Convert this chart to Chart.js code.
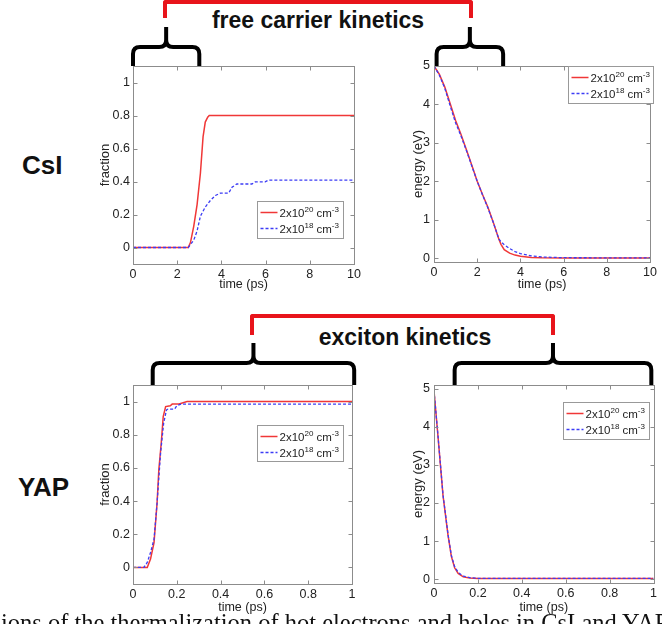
<!DOCTYPE html>
<html>
<head>
<meta charset="utf-8">
<script src="https://cdn.jsdelivr.net/npm/chart.js@4.4.1/dist/chart.umd.min.js"></script>
<style>
  body { margin: 0; width: 662px; height: 624px; overflow: hidden; background: #fff; position: relative;
         font-family: "Liberation Sans", Arial, sans-serif; color: #111; }
  .box { position: absolute; }
  .box canvas { display: block; }
  .bracket { position: absolute; box-sizing: border-box; border: 4px solid #e8141b; border-bottom: none;
             border-radius: 3px 3px 0 0; }
  .head { position: absolute; font-weight: bold; font-size: 23px; line-height: 1; white-space: nowrap;
          transform: translateX(-50%); }
  .row { position: absolute; font-weight: bold; font-size: 26px; line-height: 1; }
  .caption { position: absolute; left: 1px; top: 611px; font-family: "Liberation Serif", serif; font-size: 24.5px;
             line-height: 1; white-space: nowrap; }
</style>
</head>
<body>
<div class="bracket" style="left:163px;top:0;width:310px;height:18px"></div>
<div class="head" style="left:318px;top:9px">free carrier kinetics</div>
<div class="bracket" style="left:250px;top:314px;width:305px;height:21px"></div>
<div class="head" style="left:405px;top:326px">exciton kinetics</div>
<div class="row" style="left:22px;top:152px">CsI</div>
<div class="row" style="left:18px;top:474px">YAP</div>

<div class="box" style="left:98px;top:20px"><canvas id="csiFrac" width="266" height="272"></canvas></div>
<div class="box" style="left:411px;top:20px"><canvas id="csiEnergy" width="249" height="272"></canvas></div>
<div class="box" style="left:98px;top:335px"><canvas id="yapFrac" width="264" height="280"></canvas></div>
<div class="box" style="left:411px;top:335px"><canvas id="yapEnergy" width="249" height="280"></canvas></div>

<div class="caption">ions of the thermalization of hot electrons and holes in CsI and YAP</div>

<script>
// legend text, '^' marks a superscript
const seriesLabels = ['2x10^20 cm^-3', '2x10^18 cm^-3'];

const fracTicks = [0, 0.2, 0.4, 0.6, 0.8, 1];
const energyTicks = [0, 1, 2, 3, 4, 5];
const csiTimeTicks = [0, 2, 4, 6, 8, 10];
const yapTimeTicks = [0, 0.2, 0.4, 0.6, 0.8, 1];

// CsI, fraction vs time (ps)
const csiFracRedX = [0, 2.5, 2.6, 2.75, 2.9, 3.05, 3.17, 3.27, 3.38, 3.45, 10];
const csiFracRedY = [0, 0, 0.03, 0.13, 0.26, 0.45, 0.67, 0.76, 0.79, 0.8, 0.8];
const csiFracBlueX = [0, 2.5, 2.75, 2.9, 3.05, 3.27, 3.5, 3.73, 3.95, 4.33, 4.48, 4.7, 5.38, 5.53, 5.98, 6.13, 10];
const csiFracBlueY = [0, 0, 0.045, 0.1, 0.19, 0.245, 0.285, 0.315, 0.33, 0.33, 0.365, 0.385, 0.385, 0.398, 0.398, 0.408, 0.408];

// CsI, energy (eV) vs time (ps)
const csiEnergyX = [0, 0.25, 0.5, 0.75, 1, 1.25, 1.5, 1.75, 2, 2.25, 2.5, 2.75, 3, 3.1, 3.25, 3.5, 3.75, 4, 4.5, 5, 6, 10];
const csiEnergyRed = [5, 4.78, 4.45, 4.02, 3.58, 3.22, 2.82, 2.42, 2.0, 1.65, 1.32, 0.92, 0.5, 0.36, 0.22, 0.13, 0.08, 0.05, 0.02, 0.01, 0.005, 0.005];
const csiEnergyBlue = [5, 4.76, 4.42, 3.96, 3.52, 3.18, 2.8, 2.4, 2.0, 1.64, 1.3, 0.92, 0.5, 0.43, 0.35, 0.25, 0.17, 0.12, 0.06, 0.03, 0.012, 0.005];

// YAP, fraction vs time (ps)
const yapFracRedX = [0, 0.065, 0.08, 0.096, 0.11, 0.118, 0.129, 0.138, 0.149, 0.17, 0.179, 0.21, 0.247, 1];
const yapFracRedY = [0, 0, 0.05, 0.15, 0.39, 0.59, 0.75, 0.91, 0.97, 0.975, 0.985, 0.985, 1.0, 1.0];
const yapFracBlueX = [0, 0.05, 0.065, 0.08, 0.096, 0.11, 0.126, 0.14, 0.153, 0.16, 0.19, 0.2, 0.22, 1];
const yapFracBlueY = [0, 0, 0.03, 0.09, 0.17, 0.39, 0.69, 0.87, 0.95, 0.955, 0.955, 0.975, 0.985, 0.985];

// YAP, energy (eV) vs time (ps)
const yapEnergyX = [0, 0.018, 0.041, 0.064, 0.079, 0.094, 0.11, 0.133, 0.163, 0.2, 0.25, 1];
const yapEnergyRed = [4.95, 3.76, 2.2, 1.15, 0.6, 0.3, 0.15, 0.06, 0.03, 0.02, 0.02, 0.02];
const yapEnergyBlue = [4.95, 3.78, 2.22, 1.17, 0.63, 0.33, 0.18, 0.08, 0.04, 0.025, 0.02, 0.02];

// time spans marked by the black braces
const csiFracBrace = [0, 3];
const csiEnergyBrace = [0.12, 3.2];
const yapFracBrace = [0.09, 1.01];
const yapEnergyBrace = [0.094, 0.99];

const RED = 'rgb(240,55,55)';
const BLUE = 'rgb(60,60,245)';
Chart.defaults.font.family = '"Liberation Sans", Arial, sans-serif';

function drawLabel(ctx, text, x, y) {
  text.split(/(\^\S+)/).forEach(part => {
    if (!part) return;
    const sup = part[0] === '^';
    const s = sup ? part.slice(1) : part;
    ctx.font = sup ? '8px "Liberation Sans", Arial' : '11.5px "Liberation Sans", Arial';
    ctx.fillText(s, x, sup ? y - 5 : y);
    x += ctx.measureText(s).width;
  });
}

const decor = {
  id: 'decor',
  afterDraw(chart, args, opts) {
    const ctx = chart.ctx, a = chart.chartArea, xs = chart.scales.x, ys = chart.scales.y;
    ctx.save();
    // box and inward ticks
    ctx.strokeStyle = '#8c8c8c';
    ctx.lineWidth = 1;
    const l = Math.round(a.left) + 0.5, r = Math.round(a.right) + 0.5;
    const t = Math.round(a.top) + 0.5, b = Math.round(a.bottom) + 0.5;
    ctx.strokeRect(l, t, r - l, b - t);
    ctx.beginPath();
    xs.ticks.forEach(tk => {
      const x = Math.round(xs.getPixelForValue(tk.value)) + 0.5;
      ctx.moveTo(x, b); ctx.lineTo(x, b - 4);
      ctx.moveTo(x, t); ctx.lineTo(x, t + 4);
    });
    ys.ticks.forEach(tk => {
      const y = Math.round(ys.getPixelForValue(tk.value)) + 0.5;
      ctx.moveTo(l, y); ctx.lineTo(l + 4, y);
      ctx.moveTo(r, y); ctx.lineTo(r - 4, y);
    });
    ctx.stroke();

    // legend box
    const L = opts.legend;
    const bx = Math.round(a.left + L.x) + 0.5, by = Math.round(a.top + L.y) + 0.5;
    ctx.fillStyle = '#fff';
    ctx.fillRect(bx, by, L.w, L.h);
    ctx.strokeStyle = '#999';
    ctx.strokeRect(bx, by, L.w, L.h);
    chart.data.datasets.forEach((ds, i) => {
      const ly = by + (i === 0 ? 11 : 27);
      ctx.strokeStyle = ds.borderColor;
      ctx.lineWidth = ds.borderWidth;
      ctx.setLineDash(ds.borderDash || []);
      ctx.beginPath(); ctx.moveTo(bx + 3, ly); ctx.lineTo(bx + 20, ly); ctx.stroke();
      ctx.setLineDash([]);
      ctx.fillStyle = '#222';
      ctx.textBaseline = 'alphabetic';
      drawLabel(ctx, ds.label, bx + 22, ly + 4);
    });

    // black brace over the chart
    const br = opts.brace;
    const x1 = xs.getPixelForValue(br[0]), x2 = xs.getPixelForValue(br[1]), xm = (x1 + x2) / 2;
    const yb = a.top, yh = a.top - opts.rise, yt = a.top - opts.tip, rr = 7;
    ctx.strokeStyle = '#000';
    ctx.lineWidth = 4;
    ctx.lineJoin = 'round';
    ctx.beginPath();
    ctx.moveTo(x1, yb); ctx.lineTo(x1, yh + rr); ctx.quadraticCurveTo(x1, yh, x1 + rr, yh);
    ctx.lineTo(xm - rr, yh); ctx.quadraticCurveTo(xm, yh, xm, yh - rr); ctx.lineTo(xm, yt);
    ctx.moveTo(xm, yh - rr); ctx.quadraticCurveTo(xm, yh, xm + rr, yh);
    ctx.lineTo(x2 - rr, yh); ctx.quadraticCurveTo(x2, yh, x2, yh + rr); ctx.lineTo(x2, yb);
    ctx.stroke();
    ctx.restore();
  }
};

const fmt = v => String(Math.round(v * 10) / 10);

function series(label, xs, ys, color, dash, order) {
  return {
    label, data: xs.map((x, i) => ({ x, y: ys[i] })),
    borderColor: color, borderWidth: dash ? 1.3 : 1.5, borderDash: dash,
    pointRadius: 0, tension: 0, fill: false, order
  };
}

function makeChart(id, c) {
  return new Chart(document.getElementById(id), {
    type: 'line',
    data: {
      datasets: [
        series(seriesLabels[0], c.redX, c.redY, RED, undefined, 1),
        series(seriesLabels[1], c.blueX, c.blueY, BLUE, [3, 2], 0)
      ]
    },
    plugins: [decor],
    options: {
      responsive: false, animation: false, devicePixelRatio: 1,
      layout: { padding: { top: c.padTop, right: c.padRight, left: 0, bottom: 0 } },
      plugins: {
        legend: { display: false }, tooltip: { enabled: false },
        decor: { legend: c.legend, brace: c.brace, rise: c.rise, tip: c.tip }
      },
      scales: {
        x: {
          type: 'linear', min: c.xMin, max: c.xMax,
          afterBuildTicks: s => { s.ticks = c.xTicks.map(v => ({ value: v })); },
          afterFit: s => { s.height = c.xH; },
          grid: { display: false, drawTicks: false }, border: { display: false },
          ticks: { padding: 3, color: '#222', font: { size: 12.5 }, autoSkip: false, maxRotation: 0, callback: fmt },
          title: { display: true, text: 'time (ps)', color: '#222', font: { size: 12.5 }, padding: 0 }
        },
        y: {
          type: 'linear', min: c.yMin, max: c.yMax,
          afterBuildTicks: s => { s.ticks = c.yTicks.map(v => ({ value: v })); },
          afterFit: s => { s.width = c.yW; },
          grid: { display: false, drawTicks: false }, border: { display: false },
          ticks: { padding: c.yPad, color: '#222', font: { size: 12.5 }, autoSkip: false, callback: fmt },
          title: { display: true, text: c.yTitle, color: '#222', font: { size: 13 }, padding: 0 }
        }
      }
    }
  });
}

makeChart('csiFrac', {
  redX: csiFracRedX, redY: csiFracRedY, blueX: csiFracBlueX, blueY: csiFracBlueY,
  xMin: 0, xMax: 10, xTicks: csiTimeTicks, yMin: -0.1, yMax: 1.1, yTicks: fracTicks,
  yTitle: 'fraction', yW: 35, yPad: 3, xH: 28, padTop: 46, padRight: 10,
  legend: { x: 124, y: 135, w: 86, h: 37 }, brace: csiFracBrace, rise: 19, tip: 39
});
makeChart('csiEnergy', {
  redX: csiEnergyX, redY: csiEnergyRed, blueX: csiEnergyX, blueY: csiEnergyBlue,
  xMin: 0, xMax: 10, xTicks: csiTimeTicks, yMin: -0.1, yMax: 5, yTicks: energyTicks,
  yTitle: 'energy (eV)', yW: 23, yPad: 4, xH: 30, padTop: 46, padRight: 6,
  legend: { x: 134, y: 0, w: 85, h: 37 }, brace: csiEnergyBrace, rise: 19, tip: 39
});
makeChart('yapFrac', {
  redX: yapFracRedX, redY: yapFracRedY, blueX: yapFracBlueX, blueY: yapFracBlueY,
  xMin: 0, xMax: 1, xTicks: yapTimeTicks, yMin: -0.1, yMax: 1.1, yTicks: fracTicks,
  yTitle: 'fraction', yW: 35, yPad: 3, xH: 31, padTop: 50, padRight: 10,
  legend: { x: 124, y: 40, w: 86, h: 36 }, brace: yapFracBrace, rise: 22, tip: 42
});
makeChart('yapEnergy', {
  redX: yapEnergyX, redY: yapEnergyRed, blueX: yapEnergyX, blueY: yapEnergyBlue,
  xMin: 0, xMax: 1, xTicks: yapTimeTicks, yMin: -0.1, yMax: 5.1, yTicks: energyTicks,
  yTitle: 'energy (eV)', yW: 23, yPad: 4, xH: 32, padTop: 50, padRight: 6,
  legend: { x: 129, y: 17, w: 86, h: 37 }, brace: yapEnergyBrace, rise: 22, tip: 42
});
</script>
</body>
</html>
